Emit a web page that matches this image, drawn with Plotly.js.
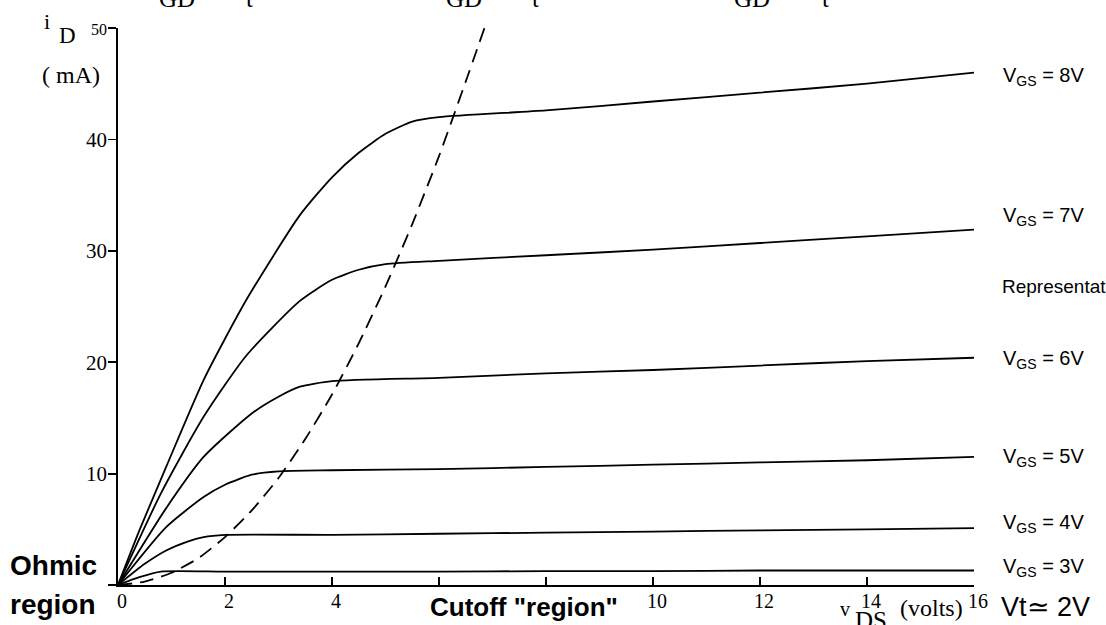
<!DOCTYPE html>
<html>
<head>
<meta charset="utf-8">
<script src="https://cdn.plot.ly/plotly-3.0.1.min.js"></script>
<style>html,body{margin:0;padding:0;background:#fff;}#chart{width:1106px;height:625px;}</style>
</head>
<body>
<div id="chart"></div>
<script>
// ---- data (v_DS in volts, i_D in mA) ----
const vds8 = [0, 0.4, 0.9, 1.6, 2.4, 3.4, 4, 4.5, 5, 5.5, 6, 8, 10, 12, 14, 16];
const id8  = [0, 4.9, 10.6, 18.4, 25.6, 33.2, 36.6, 38.8, 40.5, 41.6, 42, 42.6, 43.4, 44.2, 45, 46];
const vds7 = [0, 0.8, 1.6, 2.4, 3.4, 4, 4.5, 5, 6, 8, 10, 12, 14, 16];
const id7  = [0, 8.2, 15.1, 20.6, 25.5, 27.4, 28.3, 28.8, 29.1, 29.6, 30.1, 30.7, 31.3, 31.9];
const vds6 = [0, 0.9, 1.6, 2.5, 3, 3.4, 4, 6, 8, 10, 12, 14, 16];
const id6  = [0, 6.9, 11.5, 15.4, 16.9, 17.8, 18.3, 18.6, 19, 19.3, 19.7, 20.1, 20.4];
const vds5 = [0, 0.9, 1.6, 2, 2.5, 3, 4, 6, 8, 10, 12, 14, 16];
const id5  = [0, 5.2, 7.9, 9.0, 9.9, 10.2, 10.3, 10.4, 10.6, 10.8, 11, 11.2, 11.5];
const vds4 = [0, 0.5, 0.9, 1.3, 1.6, 2, 4, 6, 8, 10, 12, 14, 16];
const id4  = [0, 1.9, 3.1, 3.9, 4.3, 4.5, 4.5, 4.6, 4.7, 4.8, 4.9, 5.0, 5.1];
const vds3 = [0, 0.4, 0.8, 2, 4, 6, 8, 10, 12, 14, 16];
const id3  = [0, 0.7, 1.2, 1.2, 1.2, 1.2, 1.25, 1.25, 1.3, 1.3, 1.3];
// boundary between ohmic and saturation (dashed)
const vdsB = [0, 0.5, 1, 1.5, 2, 2.5, 3, 3.5, 4, 4.5, 5, 5.5, 6, 6.5, 6.85];
const idB  = [0, 0.3, 1.1, 2.4, 4.3, 6.7, 9.6, 13.1, 17.1, 21.7, 26.8, 32.4, 38.5, 45.2, 50];

const xTickVals = [0, 2, 4, 6, 8, 10, 12, 14, 16];
const xTickText = ['0', '2', '4', '6', '8', '10', '12', '14', '16'];
const yTickVals = [0, 10, 20, 30, 40, 50];
const yTickText = ['', '10', '20', '30', '40', '<span style="font-size:16px">50</span>'];

const curveNames = ['V<sub>GS</sub> = 8V', 'V<sub>GS</sub> = 7V', 'V<sub>GS</sub> = 6V',
                    'V<sub>GS</sub> = 5V', 'V<sub>GS</sub> = 4V', 'V<sub>GS</sub> = 3V'];

// ---- drawing ----
const serif = 'Liberation Serif, Times New Roman, serif';
const sans = 'Liberation Sans, Arial, sans-serif';
const curveLine = {color: '#000', width: 1.8, shape: 'spline', smoothing: 0.6};
const xs = [vds8, vds7, vds6, vds5, vds4, vds3];
const ys = [id8, id7, id6, id5, id4, id3];
const traces = xs.map((x, k) => ({
  x: x, y: ys[k], type: 'scatter', mode: 'lines', name: curveNames[k],
  line: curveLine, hoverinfo: 'skip', cliponaxis: false
}));
traces.push({
  x: vdsB, y: idB, type: 'scatter', mode: 'lines', name: 'boundary',
  line: {color: '#000', width: 1.8, dash: '14px,8px', shape: 'spline', smoothing: 0.6},
  hoverinfo: 'skip', cliponaxis: false
});

function ann(text, x, y, opts) {
  return Object.assign({
    text: text, x: x, y: y, xref: 'paper', yref: 'paper',
    showarrow: false, xanchor: 'left', yanchor: 'middle',
    font: {family: sans, size: 20, color: '#000'}
  }, opts || {});
}
// pixel -> paper helpers (plot area: left 118, right 974, top 28, bottom 585)
const L = 118, R = 974, T = 28, B = 585;
const px = p => (p - L) / (R - L);
const py = p => (B - p) / (B - T);

const annotations = [
  // partially visible subscripts at the very top
  ann('GD', px(157), py(-2), {font: {family: serif, size: 25, color: '#000'}}),
  ann('t',  px(244), py(-2), {font: {family: serif, size: 25, color: '#000'}}),
  ann('GD', px(444), py(-2), {font: {family: serif, size: 25, color: '#000'}}),
  ann('t',  px(530), py(-2), {font: {family: serif, size: 25, color: '#000'}}),
  ann('GD', px(732), py(-2), {font: {family: serif, size: 25, color: '#000'}}),
  ann('t',  px(820), py(-2), {font: {family: serif, size: 25, color: '#000'}}),
  // y-axis title
  ann('i', px(42), py(21), {font: {family: serif, size: 22, color: '#000'}}),
  ann('D', px(57), py(35), {font: {family: serif, size: 23, color: '#000'}}),
  ann('( mA)', px(40), py(75), {font: {family: serif, size: 24, color: '#000'}}),
  // x-axis title
  ann('v', px(838), py(609), {font: {family: serif, size: 20, color: '#000'}}),
  ann('DS', px(853), py(620), {font: {family: serif, size: 25, color: '#000'}}),
  ann('(volts)', px(898), py(608), {font: {family: serif, size: 24, color: '#000'}}),
  // curve labels
  ann(curveNames[0], px(1001), py(76)),
  ann(curveNames[1], px(1001), py(217)),
  ann('Representative curves', px(1000), py(286), {font: {family: sans, size: 19, color: '#000'}}),
  ann(curveNames[2], px(1001), py(359)),
  ann(curveNames[3], px(1001), py(457)),
  ann(curveNames[4], px(1001), py(523)),
  ann(curveNames[5], px(1001), py(567)),
  // region notes
  ann('<b>Ohmic</b>', px(8), py(565), {font: {family: sans, size: 28, color: '#000'}}),
  ann('<b>region</b>', px(8), py(604), {font: {family: sans, size: 28, color: '#000'}}),
  ann('<b>Cutoff "region"</b>', px(429), py(607), {font: {family: sans, size: 26, color: '#000'}, bgcolor: '#fff', borderpad: 0}),
  ann('Vt\u2243 2V', px(999), py(607), {font: {family: sans, size: 27, color: '#000'}})
];

const layout = {
  width: 1106, height: 625,
  margin: {l: L, r: 1106 - R, t: T, b: 625 - B, pad: 0, autoexpand: false},
  paper_bgcolor: '#fff', plot_bgcolor: '#fff',
  showlegend: false,
  xaxis: {
    range: [0, 16], showgrid: false, zeroline: false,
    showline: true, linecolor: '#000', linewidth: 1.8,
    ticks: 'inside', ticklen: 8, tickwidth: 1.8, tickcolor: '#000',
    tickvals: xTickVals, ticktext: xTickText, ticklabelshift: 4, ticklabelstandoff: -3,
    tickfont: {family: serif, size: 20, color: '#000'}, fixedrange: true
  },
  xaxis2: {
    overlaying: 'x', anchor: 'y', range: [0, 16], showgrid: false, zeroline: false,
    showline: false, ticks: 'outside', ticklen: 5, tickwidth: 1.8, tickcolor: '#000',
    tickvals: [0], showticklabels: false, fixedrange: true
  },
  yaxis: {
    range: [0, 50], showgrid: false, zeroline: false,
    showline: true, linecolor: '#000', linewidth: 1.8,
    ticks: 'outside', ticklen: 8, tickwidth: 1.8, tickcolor: '#000',
    tickvals: yTickVals, ticktext: yTickText, ticklabelstandoff: -3,
    tickfont: {family: serif, size: 21, color: '#000'}, fixedrange: true
  },
  yaxis2: {
    overlaying: 'y', anchor: 'x', range: [0, 50], showgrid: false, zeroline: false,
    showline: false, ticks: 'inside', ticklen: 8, tickwidth: 1.8, tickcolor: '#000',
    tickvals: [10, 20, 30, 40, 50], showticklabels: false, fixedrange: true
  },
  annotations: annotations
};

Plotly.newPlot('chart', traces, layout, {staticPlot: true, displayModeBar: false});
</script>
</body>
</html>
